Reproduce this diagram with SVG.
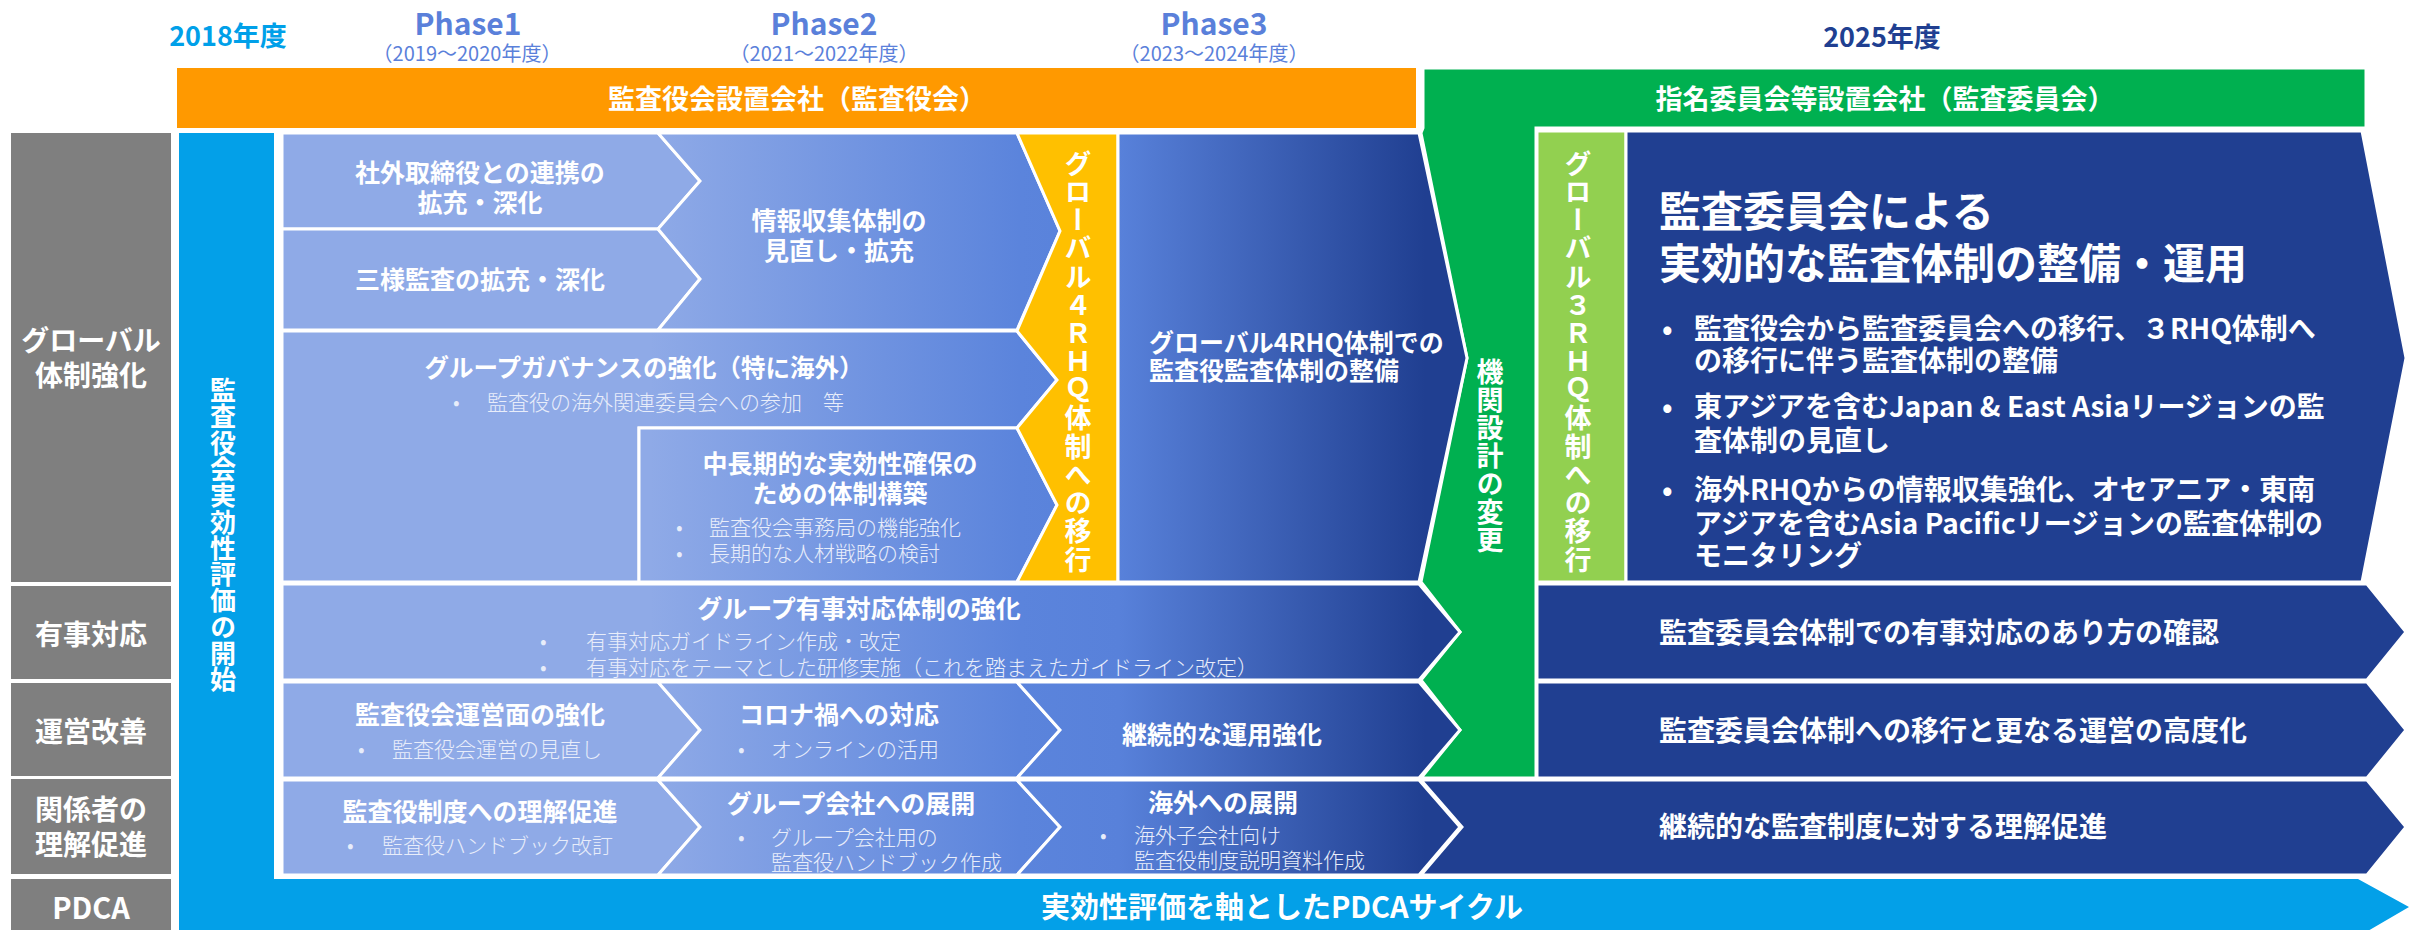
<svg xmlns="http://www.w3.org/2000/svg" width="2415" height="930" viewBox="0 0 2415 930">
<style>
text{font-family:"Noto Sans CJK JP","Noto Sans",sans-serif;dominant-baseline:central}
.t{font-weight:700;fill:#fff;font-size:25px}
.tm{font-weight:700;fill:#fff;font-size:25px;text-anchor:middle}
.b{font-weight:300;fill:#E8EDFA;font-size:21px}
.r{font-weight:700;fill:#fff;font-size:28px}
.g{font-weight:700;fill:#fff;font-size:28px;text-anchor:middle}
.v{font-weight:700;fill:#fff;text-anchor:middle;writing-mode:vertical-rl;text-orientation:upright}
.w{stroke:#fff;stroke-width:3;stroke-linejoin:miter}
.lt{fill:#8FAAE7}
.gr{fill:url(#grad)}
.dk{fill:#203F91}
.gy{fill:#7F7F7F}
.ph{font-weight:700;fill:#5A80DA;font-size:30px;text-anchor:middle}
.ps{font-weight:400;fill:#5A80DA;font-size:20px;text-anchor:middle}
</style>
<defs>
<linearGradient id="grad" gradientUnits="userSpaceOnUse" x1="650" y1="0" x2="1425" y2="0">
<stop offset="0" stop-color="#8FAAE7"/>
<stop offset="0.477" stop-color="#5B84DC"/>
<stop offset="0.606" stop-color="#5881DA"/>
<stop offset="1" stop-color="#203F91"/>
</linearGradient>
</defs>
<rect width="2415" height="930" fill="#fff"/>

<g id="header">
<text x="228" y="34" style="font-weight:700;font-size:27px;fill:#00A0E9;text-anchor:middle">2018年度</text>
<text class="ph" x="468" y="22">Phase1</text>
<text class="ps" x="467" y="52">（2019～2020年度）</text>
<text class="ph" x="824" y="22">Phase2</text>
<text class="ps" x="824" y="52">（2021～2022年度）</text>
<text class="ph" x="1214" y="22">Phase3</text>
<text class="ps" x="1214" y="52">（2023～2024年度）</text>
<text x="1882" y="35" style="font-weight:700;font-size:27px;fill:#203F91;text-anchor:middle">2025年度</text>
</g>

<g id="bar-kansayaku">
<rect x="177" y="68" width="1239" height="60" fill="#FF9900"/>
<text x="797" y="97" style="font-weight:700;font-size:27px;fill:#fff;text-anchor:middle">監査役会設置会社（監査役会）</text>
</g>

<g id="green-kikan">
<polygon class="w" fill="#00B050" points="1423,68 2366,68 2366,128 1536,128 1536,778 1421,778 1460,730 1421,680 1460,632 1421,582 1467,358 1421,133 1423,128"/>
<text x="1885" y="97" style="font-weight:700;font-size:27px;fill:#fff;text-anchor:middle">指名委員会等設置会社（監査委員会）</text>
<text class="v" x="1490" y="456" style="font-size:27px;letter-spacing:1px">機関設計の変更</text>
</g>

<g id="labels">
<rect class="gy" x="11" y="133" width="160" height="449"/>
<text class="g" x="91" y="339">グローバル</text>
<text class="g" x="91" y="374">体制強化</text>
<rect class="gy" x="11" y="586" width="160" height="93"/>
<text class="g" x="91" y="633">有事対応</text>
<rect class="gy" x="11" y="683" width="160" height="93"/>
<text class="g" x="91" y="730">運営改善</text>
<rect class="gy" x="11" y="779" width="160" height="95"/>
<text class="g" x="91" y="808">関係者の</text>
<text class="g" x="91" y="843">理解促進</text>
<rect class="gy" x="11" y="879" width="160" height="60"/>
<text class="g" x="91" y="906" style="font-size:29px">PDCA</text>
</g>

<g id="pdca">
<polygon fill="#03A0E8" points="179,133 274,133 274,879 2358,879 2409,907 2361,935 179,935"/>
<text class="v" x="223" y="535" style="font-size:26px;letter-spacing:0.3px">監査役会実効性評価の開始</text>
<text x="1282" y="905" style="font-weight:700;font-size:29px;fill:#fff;text-anchor:middle">実効性評価を軸としたPDCAサイクル</text>
</g>

<g id="n-shagai">
<polygon class="w lt" points="282,133 658,133 700,181 658,229 282,229"/>
<text class="tm" x="480" y="171">社外取締役との連携の</text>
<text class="tm" x="480" y="201">拡充・深化</text>
</g>
<g id="n-sanyo">
<polygon class="w lt" points="282,229 658,229 700,279 658,330 282,330"/>
<text class="tm" x="480" y="278">三様監査の拡充・深化</text>
</g>
<g id="n-joho">
<polygon class="w gr" points="658,133 1017,133 1060,231 1017,330 658,330 700,279 658,229 700,181"/>
<text class="tm" x="839" y="219">情報収集体制の</text>
<text class="tm" x="839" y="249">見直し・拡充</text>
</g>
<g id="n-governance">
<polygon class="w gr" points="282,331 1017,331 1057,380 1017,428 639,428 639,582 282,582"/>
<text class="tm" x="644" y="366" style="font-size:24.5px">グループガバナンスの強化（特に海外）</text>
<text class="b" x="453" y="401">•</text>
<text class="b" x="487" y="401">監査役の海外関連委員会への参加　等</text>
</g>
<g id="n-chochoki">
<polygon class="w gr" points="639,428 1017,428 1057,505 1017,582 639,582"/>
<text class="tm" x="840" y="462">中長期的な実効性確保の</text>
<text class="tm" x="840" y="492">ための体制構築</text>
<text class="b" x="676" y="526">•</text>
<text class="b" x="709" y="526">監査役会事務局の機能強化</text>
<text class="b" x="676" y="552">•</text>
<text class="b" x="709" y="552">長期的な人材戦略の検討</text>
</g>
<g id="n-4rhq">
<polygon class="w" fill="#FFC000" points="1017,133 1118,133 1118,582 1017,582 1057,505 1017,428 1057,380 1017,331 1060,231"/>
<text class="v" x="1078" y="362" style="font-size:27px;letter-spacing:1.3px">グローバル４ＲＨＱ体制への移行</text>
</g>
<g id="n-4rhq-kansa">
<polygon class="w gr" points="1118,133 1419,133 1467,358 1419,582 1118,582"/>
<text class="t" x="1149" y="341">グローバル4RHQ体制での</text>
<text class="t" x="1149" y="369">監査役監査体制の整備</text>
</g>
<g id="n-3rhq">
<rect class="w" fill="#92D050" x="1537" y="131" width="89" height="451"/>
<text class="v" x="1578" y="362" style="font-size:27px;letter-spacing:1.3px">グローバル３ＲＨＱ体制への移行</text>
</g>
<g id="n-kansaiin">
<polygon class="w dk" points="1626,131 2362,131 2406,358 2362,582 1626,582"/>
<text x="1659" y="208" style="font-weight:700;font-size:42px;fill:#fff">監査委員会による</text>
<text x="1659" y="260" style="font-weight:700;font-size:42px;fill:#fff">実効的な監査体制の整備・運用</text>
<text class="r" x="1662" y="327">•</text>
<text class="r" x="1694" y="327">監査役会から監査委員会への移行、３RHQ体制へ</text>
<text class="r" x="1694" y="359">の移行に伴う監査体制の整備</text>
<text class="r" x="1662" y="405">•</text>
<text class="r" x="1694" y="405">東アジアを含むJapan &amp; East Asiaリージョンの監</text>
<text class="r" x="1694" y="439">査体制の見直し</text>
<text class="r" x="1662" y="488">•</text>
<text class="r" x="1694" y="488">海外RHQからの情報収集強化、オセアニア・東南</text>
<text class="r" x="1694" y="522">アジアを含むAsia Pacificリージョンの監査体制の</text>
<text class="r" x="1694" y="554">モニタリング</text>
</g>

<g id="n-yuji">
<polygon class="w gr" points="282,584 1419,584 1460,632 1419,680 282,680"/>
<text class="tm" x="859" y="607">グループ有事対応体制の強化</text>
<text class="b" x="540" y="640">•</text>
<text class="b" x="586" y="640">有事対応ガイドライン作成・改定</text>
<text class="b" x="540" y="666">•</text>
<text class="b" x="586" y="666">有事対応をテーマとした研修実施（これを踏まえたガイドライン改定）</text>
</g>
<g id="n-yuji-iin">
<polygon class="w dk" points="1537,584 2367,584 2406,632 2367,680 1537,680"/>
<text class="r" x="1659" y="631">監査委員会体制での有事対応のあり方の確認</text>
</g>

<g id="n-unei">
<polygon class="w lt" points="282,682 658,682 700,730 658,778 282,778"/>
<text class="tm" x="480" y="713">監査役会運営面の強化</text>
<text class="b" x="358" y="748">•</text>
<text class="b" x="392" y="748">監査役会運営の見直し</text>
</g>
<g id="n-corona">
<polygon class="w gr" points="658,682 1017,682 1060,730 1017,778 658,778 700,730"/>
<text class="tm" x="839" y="713">コロナ禍への対応</text>
<text class="b" x="738" y="748">•</text>
<text class="b" x="771" y="748">オンラインの活用</text>
</g>
<g id="n-keizoku-unyo">
<polygon class="w gr" points="1017,682 1419,682 1460,730 1419,778 1017,778 1060,730"/>
<text class="tm" x="1222" y="733">継続的な運用強化</text>
</g>
<g id="n-unei-iin">
<polygon class="w dk" points="1537,682 2367,682 2406,730 2367,778 1537,778"/>
<text class="r" x="1659" y="729">監査委員会体制への移行と更なる運営の高度化</text>
</g>

<g id="n-rikai">
<polygon class="w lt" points="282,780 658,780 700,827 658,875 282,875"/>
<text class="tm" x="480" y="810">監査役制度への理解促進</text>
<text class="b" x="347" y="844">•</text>
<text class="b" x="382" y="844">監査役ハンドブック改訂</text>
</g>
<g id="n-group">
<polygon class="w gr" points="658,780 1017,780 1060,827 1017,875 658,875 700,827"/>
<text class="tm" x="851" y="802">グループ会社への展開</text>
<text class="b" x="738" y="836">•</text>
<text class="b" x="771" y="836">グループ会社用の</text>
<text class="b" x="771" y="861">監査役ハンドブック作成</text>
</g>
<g id="n-kaigai">
<polygon class="w gr" points="1017,780 1419,780 1460,827 1419,875 1017,875 1060,827"/>
<text class="tm" x="1223" y="801">海外への展開</text>
<text class="b" x="1100" y="834">•</text>
<text class="b" x="1134" y="834">海外子会社向け</text>
<text class="b" x="1134" y="859">監査役制度説明資料作成</text>
</g>
<g id="n-rikai-keizoku">
<polygon class="w dk" points="1421,780 2367,780 2406,827 2367,875 1421,875 1462,827"/>
<text class="r" x="1659" y="825">継続的な監査制度に対する理解促進</text>
</g>
<g id="connectors"></g>
</svg>
